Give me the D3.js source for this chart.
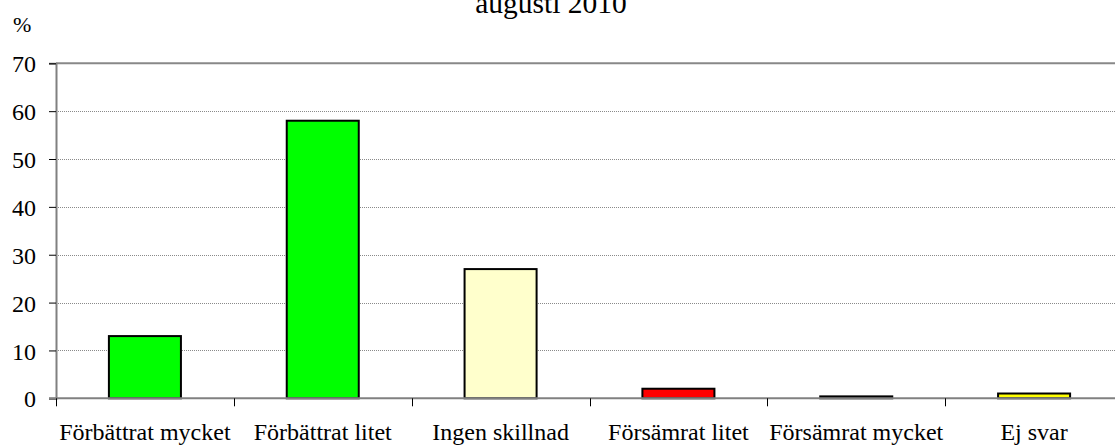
<!DOCTYPE html>
<html>
<head>
<meta charset="utf-8">
<script src="https://cdn.jsdelivr.net/npm/d3@7"></script>
<style>
  html, body { margin: 0; padding: 0; background: #fff; }
  svg { display: block; }
  text { font-family: "Liberation Serif", "Times New Roman", serif; fill: #000; }
</style>
</head>
<body>
<svg id="chart" width="1115" height="445"></svg>
<script>
const categories = ["Förbättrat mycket", "Förbättrat litet", "Ingen skillnad", "Försämrat litet", "Försämrat mycket", "Ej svar"];
const values = [13, 58, 27, 2, 0.4, 1];
const colors = ["#00ff00", "#00ff00", "#ffffcc", "#ff0000", "#000000", "#ffff00"];
const yTicks = [0, 10, 20, 30, 40, 50, 60, 70];
const titleText = "augusti 2010";
const unitLabel = "%";

const svg = d3.select("#chart");
const plot = { left: 56, right: 1123, top: 63.3, bottom: 398.3 };

const x = d3.scaleBand()
  .domain(categories)
  .range([plot.left, plot.right])
  .paddingInner(0.595)
  .paddingOuter(0.2975);

const y = d3.scaleLinear()
  .domain([0, 70])
  .range([plot.bottom, plot.top]);

// gridlines (dotted)
svg.append("g")
  .selectAll("line")
  .data(yTicks.filter(d => d > 0 && d < 70))
  .join("line")
  .attr("x1", plot.left).attr("x2", 1115)
  .attr("y1", d => Math.round(y(d)) + 0.5).attr("y2", d => Math.round(y(d)) + 0.5)
  .attr("stroke", "#8a8a8a")
  .attr("stroke-width", 1)
  .attr("stroke-dasharray", "1,1");

// top border of plot area
svg.append("line")
  .attr("x1", plot.left).attr("x2", 1115)
  .attr("y1", y(70)).attr("y2", y(70))
  .attr("stroke", "#888").attr("stroke-width", 2);

// bars
svg.append("g")
  .selectAll("rect")
  .data(categories.map((c, i) => ({ c, v: values[i], col: colors[i] })))
  .join("rect")
  .attr("x", d => x(d.c))
  .attr("width", x.bandwidth())
  .attr("y", d => y(d.v))
  .attr("height", d => y(0) - y(d.v))
  .attr("fill", d => d.col)
  .attr("stroke", "#000")
  .attr("stroke-width", 2);

// y axis
const yAxis = d3.axisLeft(y).tickValues(yTicks).tickSize(7).tickPadding(13);
const gy = svg.append("g").attr("transform", `translate(${plot.left},0)`).call(yAxis);
gy.select(".domain").attr("stroke", "#808080").attr("stroke-width", 2);
gy.selectAll(".tick line").attr("stroke", "#000").attr("stroke-width", 1);
gy.selectAll(".tick text")
  .style("font-family", '"Liberation Serif", "Times New Roman", serif')
  .style("font-size", "24px")
  .attr("dy", "0.36em");

// x axis (baseline + ticks at category boundaries)
const boundaries = d3.range(categories.length + 1).map(i => plot.left + i * x.step());
svg.append("line")
  .attr("x1", plot.left - 7).attr("x2", 1115)
  .attr("y1", y(0)).attr("y2", y(0))
  .attr("stroke", "#808080").attr("stroke-width", 2);
svg.append("g")
  .selectAll("line")
  .data(boundaries)
  .join("line")
  .attr("x1", d => Math.round(d) + 0.5).attr("x2", d => Math.round(d) + 0.5)
  .attr("y1", y(0)).attr("y2", y(0) + 8)
  .attr("stroke", "#000").attr("stroke-width", 1);

// category labels
svg.append("g")
  .selectAll("text")
  .data(categories)
  .join("text")
  .attr("x", d => x(d) + x.bandwidth() / 2)
  .attr("y", 440)
  .attr("text-anchor", "middle")
  .style("font-size", "24px")
  .text(d => d);

// unit label
svg.append("text")
  .attr("x", 13).attr("y", 32)
  .style("font-size", "22px")
  .text(unitLabel);

// title (last visible line)
svg.append("text")
  .attr("x", 551).attr("y", 13)
  .attr("text-anchor", "middle")
  .style("font-size", "29.5px")
  .text(titleText);
</script>
</body>
</html>
